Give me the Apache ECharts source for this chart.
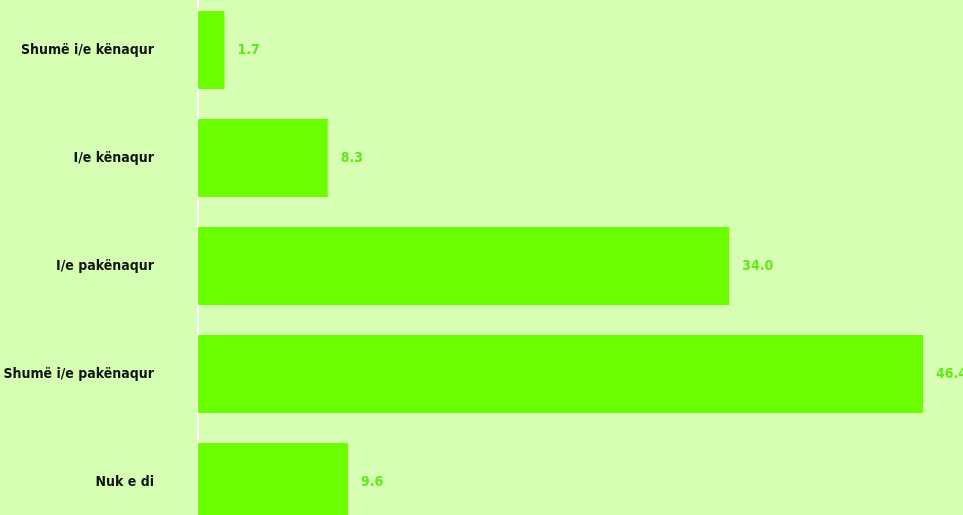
<!DOCTYPE html>
<html><head><meta charset="utf-8">
<script src="https://cdn.jsdelivr.net/npm/echarts@6/dist/echarts.min.js"></script>
<style>html,body{margin:0;padding:0;background:#d6ffb4;}#c{width:963px;height:515px;}</style>
</head><body><div id="c"></div>
<script>
const categories = ["Shumë i/e kënaqur", "I/e kënaqur", "I/e pakënaqur", "Shumë i/e pakënaqur", "Nuk e di"];
const values = [1.7, 8.3, 34.0, 46.4, 9.6];
const FONT = '"Liberation Sans Narrow", "DejaVu Sans Condensed", sans-serif';
const chart = echarts.init(document.getElementById('c'));
chart.setOption({
  backgroundColor: '#d6ffb4',
  animation: false,
  grid: { left: 198, right: 40, top: -4, bottom: -21, containLabel: false, outerBoundsMode: 'none' },
  xAxis: { type: 'value', min: 0, max: 46.4, show: false },
  yAxis: {
    type: 'category', data: categories, inverse: true,
    axisLine: { show: true, lineStyle: { color: '#ffffff', width: 2 } },
    axisTick: { show: false },
    axisLabel: { color: '#111111', fontFamily: FONT, fontWeight: 'bold', fontSize: 14, margin: 44 }
  },
  series: [{
    type: 'bar', data: values, barCategoryGap: '27.8%',
    itemStyle: { color: '#6cff00' },
    label: { show: true, position: 'right', distance: 13, color: '#62e81a', fontFamily: FONT, fontWeight: 'bold', fontSize: 14,
      formatter: p => p.value.toFixed(1) }
  }]
});
</script></body></html>
